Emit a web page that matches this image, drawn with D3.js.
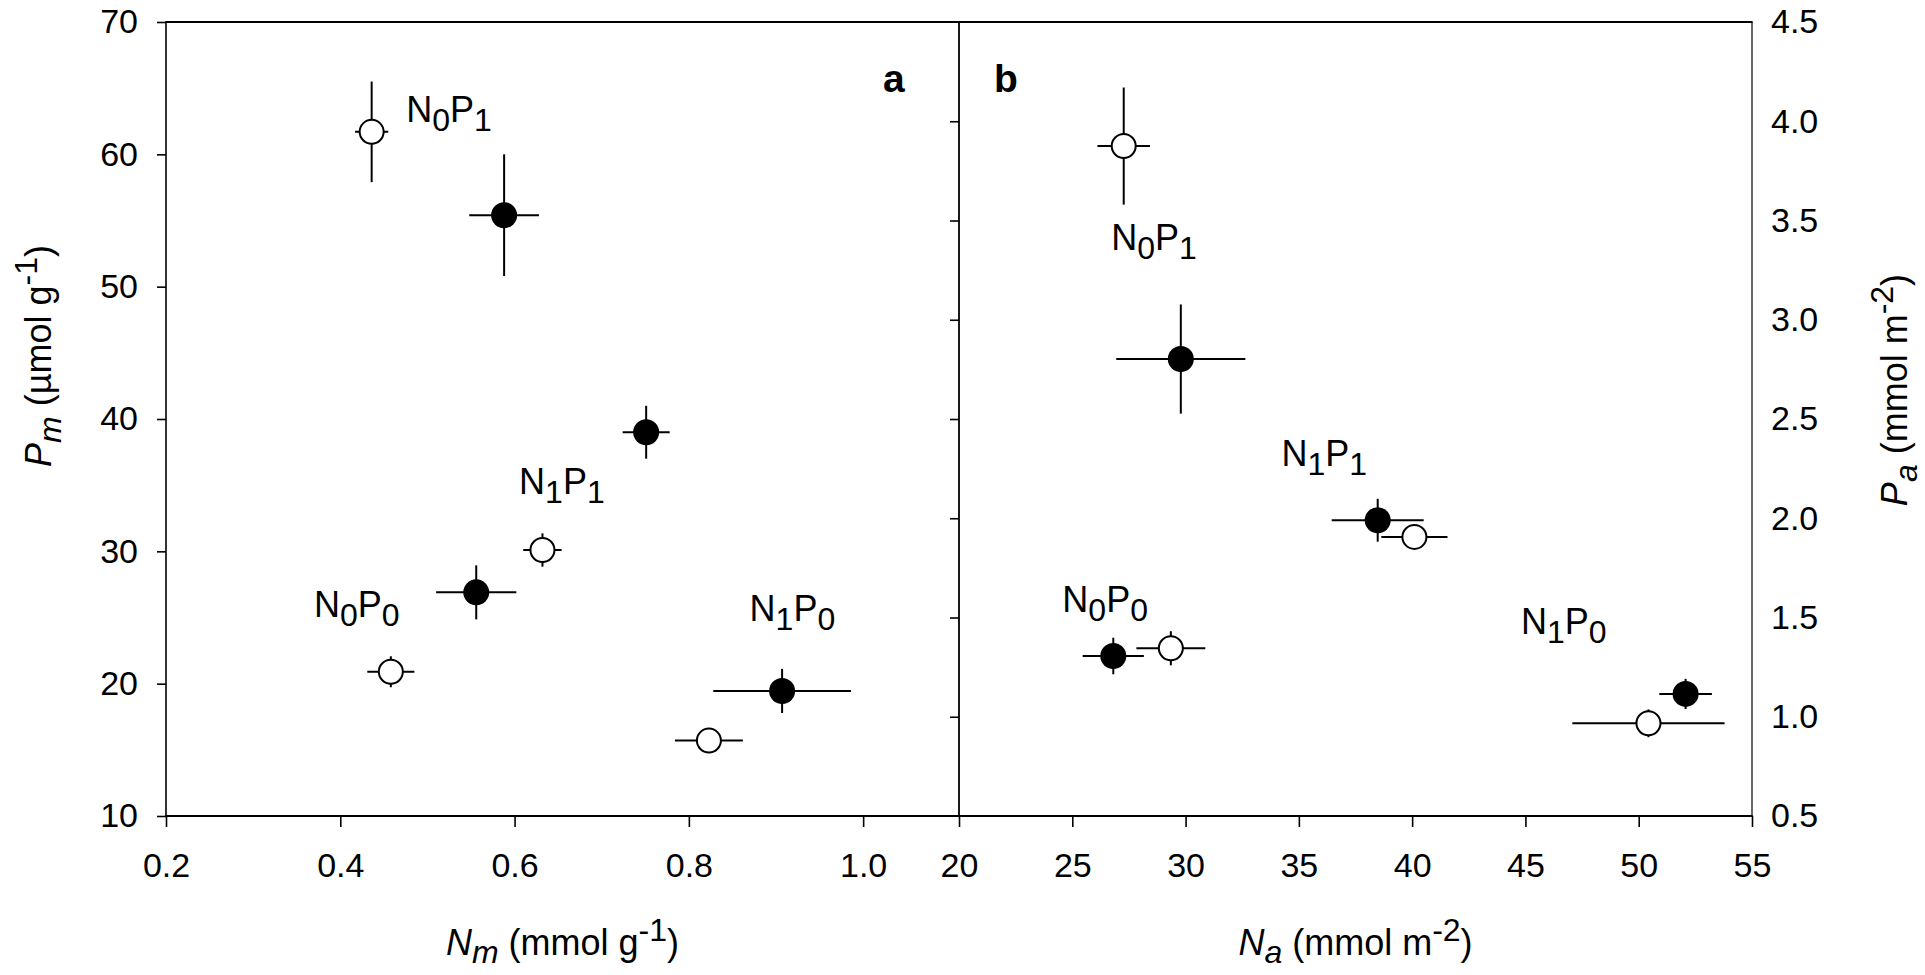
<!DOCTYPE html>
<html><head><meta charset="utf-8">
<script src="https://cdn.jsdelivr.net/npm/d3@7"></script>
<style>
body{margin:0;background:#fff;}
svg{display:block;}
text{font-family:'Liberation Sans',Arial,sans-serif;fill:#000;}
</style>
</head><body>
<svg id="chart" width="1925" height="975"></svg>
<script>
// ---------- DATA ----------
const treatments = ["N0P0", "N0P1", "N1P0", "N1P1"];

// Panel a : Nm (mmol g-1) vs Pm (µmol g-1)
const aOpenN      = [0.458, 0.436, 0.823, 0.632];
const aOpenNErr   = [0.027, 0.019, 0.039, 0.022];
const aOpenP      = [20.9, 61.7, 15.7, 30.1];
const aOpenPErr   = [1.17, 3.8, 0.8, 1.26];
const aFilledN    = [0.556, 0.588, 0.907, 0.751];
const aFilledNErr = [0.046, 0.040, 0.079, 0.027];
const aFilledP    = [26.9, 55.4, 19.45, 39.0];
const aFilledPErr = [2.04, 4.6, 1.67, 2.0];

// Panel b : Na (mmol m-2) vs Pa (mmol m-2)
const bOpenN      = [29.35, 27.27, 50.43, 40.1];
const bOpenNErr   = [1.52, 1.16, 3.36, 1.46];
const bOpenP      = [1.345, 3.875, 0.967, 1.906];
const bOpenPErr   = [0.086, 0.295, 0.07, 0.05];
const bFilledN    = [26.81, 29.79, 52.07, 38.48];
const bFilledNErr = [1.35, 2.85, 1.16, 2.03];
const bFilledP    = [1.306, 2.802, 1.115, 1.99];
const bFilledPErr = [0.092, 0.275, 0.076, 0.108];

// Tick values
const aXTicks = [0.2, 0.4, 0.6, 0.8, 1.0];
const aYTicks = [10, 20, 30, 40, 50, 60, 70];
const bXTicks = [20, 25, 30, 35, 40, 45, 50, 55];
const bYTicks = [0.5, 1.0, 1.5, 2.0, 2.5, 3.0, 3.5, 4.0, 4.5];
const bInnerTicks = [1.0, 1.5, 2.0, 2.5, 3.0, 3.5, 4.0];

// Treatment label anchors (data units)
const aLabelN = [0.372, 0.478, 0.872, 0.6075];
const aLabelP = [25.02, 62.47, 24.77, 34.31];
const bLabelN = [24.65, 26.81, 44.89, 34.32];
const bLabelP = [1.526, 3.351, 1.417, 2.265];

// ---------- LAYOUT ----------
const svg = d3.select("#chart");
const plotTop = 22, plotBottom = 816, plotLeft = 166, plotMid = 959, plotRight = 1752;
const xA = d3.scaleLinear().domain([0.2, 1.11]).range([plotLeft, plotMid]);
const yA = d3.scaleLinear().domain([10, 70]).range([plotBottom, plotTop]);
const xB = d3.scaleLinear().domain([20, 55]).range([plotMid, plotRight]);
const yB = d3.scaleLinear().domain([0.5, 4.5]).range([plotBottom, plotTop]);

const tickFont = 34, labelFont = 36, subFont = 32;

function cleanAxis(g) {
  g.select(".domain").remove();
  g.selectAll(".tick line").attr("stroke", "#000").attr("stroke-width", 1.6);
  g.selectAll(".tick text").attr("font-size", tickFont).attr("fill", "#000")
    .attr("font-family", "'Liberation Sans',Arial,sans-serif");
}

// axes
svg.append("g").attr("transform", `translate(${plotLeft},0)`)
  .call(d3.axisLeft(yA).tickValues(aYTicks).tickSize(9).tickPadding(19).tickFormat(d3.format("d")))
  .call(cleanAxis);
svg.append("g").attr("transform", `translate(0,${plotBottom})`)
  .call(d3.axisBottom(xA).tickValues(aXTicks).tickSize(11).tickPadding(26).tickFormat(d3.format(".1f")))
  .call(cleanAxis);
svg.append("g").attr("transform", `translate(0,${plotBottom})`)
  .call(d3.axisBottom(xB).tickValues(bXTicks).tickSize(11).tickPadding(26).tickFormat(d3.format("d")))
  .call(cleanAxis);
svg.append("g").attr("transform", `translate(${plotRight},0)`)
  .call(d3.axisRight(yB).tickValues(bYTicks).tickSize(0).tickPadding(19).tickFormat(d3.format(".1f")))
  .call(cleanAxis);
svg.append("g").attr("transform", `translate(${plotMid},0)`)
  .call(d3.axisLeft(yB).tickValues(bInnerTicks).tickSize(9).tickFormat(""))
  .call(cleanAxis);

// frame lines
const frame = svg.append("g").attr("stroke", "#000").attr("fill", "none");
frame.append("line").attr("x1", plotLeft).attr("x2", plotLeft).attr("y1", plotTop).attr("y2", plotBottom).attr("stroke-width", 1.6);
frame.append("line").attr("x1", plotMid).attr("x2", plotMid).attr("y1", plotTop).attr("y2", plotBottom).attr("stroke-width", 1.8);
frame.append("line").attr("x1", plotRight).attr("x2", plotRight).attr("y1", plotTop).attr("y2", plotBottom).attr("stroke-width", 1.2);
frame.append("line").attr("x1", plotLeft - 0.8).attr("x2", plotRight + 0.6).attr("y1", plotTop).attr("y2", plotTop).attr("stroke-width", 2.2);
frame.append("line").attr("x1", plotLeft - 0.8).attr("x2", plotRight + 0.6).attr("y1", plotBottom).attr("y2", plotBottom).attr("stroke-width", 2.2);

// ---------- MARKS ----------
function drawSeries(g, xs, ys, nArr, nErr, pArr, pErr) {
  const d = nArr.map((n, i) => ({n, ne: nErr[i], p: pArr[i], pe: pErr[i]}));
  const eb = g.append("g").attr("stroke", "#000").attr("stroke-width", 2);
  eb.selectAll("line.h").data(d).join("line").attr("class", "h")
    .attr("x1", o => xs(o.n - o.ne)).attr("x2", o => xs(o.n + o.ne))
    .attr("y1", o => ys(o.p)).attr("y2", o => ys(o.p));
  eb.selectAll("line.v").data(d).join("line").attr("class", "v")
    .attr("x1", o => xs(o.n)).attr("x2", o => xs(o.n))
    .attr("y1", o => ys(o.p - o.pe)).attr("y2", o => ys(o.p + o.pe));
  return d;
}
function drawCircles(g, xs, ys, d, filled) {
  g.append("g").selectAll("circle").data(d).join("circle")
    .attr("cx", o => xs(o.n)).attr("cy", o => ys(o.p))
    .attr("r", filled ? 13 : 12)
    .attr("fill", filled ? "#000" : "#fff")
    .attr("stroke", "#000").attr("stroke-width", filled ? 0 : 2);
}

const gA = svg.append("g");
const dAo = drawSeries(gA, xA, yA, aOpenN, aOpenNErr, aOpenP, aOpenPErr);
const dAf = drawSeries(gA, xA, yA, aFilledN, aFilledNErr, aFilledP, aFilledPErr);
drawCircles(gA, xA, yA, dAo, false);
drawCircles(gA, xA, yA, dAf, true);

const gB = svg.append("g");
const dBo = drawSeries(gB, xB, yB, bOpenN, bOpenNErr, bOpenP, bOpenPErr);
const dBf = drawSeries(gB, xB, yB, bFilledN, bFilledNErr, bFilledP, bFilledPErr);
drawCircles(gB, xB, yB, dBo, false);
drawCircles(gB, xB, yB, dBf, true);

// ---------- TREATMENT LABELS ----------
function treatLabel(x, y, name) {
  const t = svg.append("text").attr("x", x).attr("y", y).attr("font-size", labelFont);
  t.append("tspan").text(name[0]);
  t.append("tspan").attr("font-size", subFont).attr("dy", 9).text(name[1]);
  t.append("tspan").attr("dy", -9).text(name[2]);
  t.append("tspan").attr("font-size", subFont).attr("dy", 9).text(name[3]);
}
treatments.forEach((name, i) => {
  treatLabel(xA(aLabelN[i]) - 2, yA(aLabelP[i]), name);
  treatLabel(xB(bLabelN[i]) - 2, yB(bLabelP[i]), name);
});

// panel letters
svg.append("text").attr("x", 883).attr("y", 92).attr("font-size", 39).attr("font-weight", "bold").text("a");
svg.append("text").attr("x", 994).attr("y", 92).attr("font-size", 39).attr("font-weight", "bold").text("b");

// ---------- AXIS TITLES ----------
function title(g, parts) {
  const t = g.append("text").attr("font-size", labelFont).attr("text-anchor", "middle");
  parts.forEach(p => {
    const s = t.append("tspan").text(p.t);
    if (p.i) s.attr("font-style", "italic");
    if (p.s) s.attr("font-size", subFont);
    if (p.dy) s.attr("dy", p.dy);
  });
  return t;
}
title(svg.append("g").attr("transform", `translate(${(plotLeft + plotMid) / 2},955)`),
  [{t: "N", i: 1}, {t: "m", i: 1, s: 1, dy: 8}, {t: " (mmol g", dy: -8}, {t: "-1", s: 1, dy: -14}, {t: ")", dy: 14}]);
title(svg.append("g").attr("transform", `translate(${(plotMid + plotRight) / 2},955)`),
  [{t: "N", i: 1}, {t: "a", i: 1, s: 1, dy: 8}, {t: " (mmol m", dy: -8}, {t: "-2", s: 1, dy: -14}, {t: ")", dy: 14}]);
title(svg.append("g").attr("transform", `translate(51,356) rotate(-90)`),
  [{t: "P", i: 1}, {t: "m", i: 1, s: 1, dy: 10}, {t: " (µmol g", dy: -10}, {t: "-1", s: 1, dy: -14}, {t: ")", dy: 14}]);
title(svg.append("g").attr("transform", `translate(1907,390) rotate(-90)`),
  [{t: "P", i: 1}, {t: "a", i: 1, s: 1, dy: 10}, {t: " (mmol m", dy: -10}, {t: "-2", s: 1, dy: -14}, {t: ")", dy: 14}]);
</script>
</body></html>
